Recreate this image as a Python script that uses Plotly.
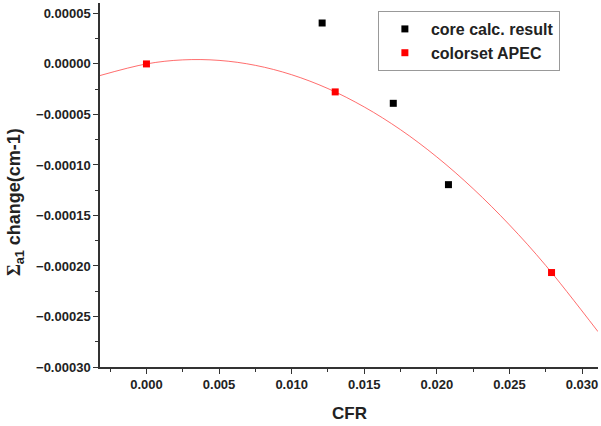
import plotly.graph_objects as go

# Data
core_cfr = [0.0121, 0.0170, 0.0208]
core_change = [0.0000405, -0.0000390, -0.0001195]

apec_cfr = [0.0, 0.0130, 0.0279]
apec_change = [0.0, -0.0000277, -0.0002065]

# Fitted curve (as drawn in the reference)
fit_cfr = [-0.0032, 0.0, 0.0025, 0.005, 0.0075, 0.010, 0.0125, 0.015, 0.0175,
           0.020, 0.0225, 0.025, 0.0275, 0.0311]
fit_change = [-0.0000115, 0.0, 0.0000040, 0.0000035, -0.0000014, -0.0000107,
              -0.0000244, -0.0000426, -0.0000651, -0.0000921, -0.0001235,
              -0.0001593, -0.0001995, -0.0002650]

font_family = "Liberation Sans, Arial, sans-serif"

fig = go.Figure()
fig.add_trace(go.Scatter(
    x=fit_cfr, y=fit_change, mode="lines",
    line=dict(color="rgba(255,60,60,0.75)", width=1, shape="spline"),
    showlegend=False, hoverinfo="skip"))
fig.add_trace(go.Scatter(
    x=core_cfr, y=core_change, mode="markers", name="core calc. result",
    marker=dict(symbol="square", size=7, color="black")))
fig.add_trace(go.Scatter(
    x=apec_cfr, y=apec_change, mode="markers", name="colorset APEC",
    marker=dict(symbol="square", size=7, color="#ff0000")))

axis_common = dict(
    showline=True, linecolor="#333333", linewidth=1.5, showgrid=False, zeroline=False,
    ticks="outside", ticklen=5, tickwidth=1.2, tickcolor="#333333",
    tickfont=dict(family=font_family, size=13, color="#222222", weight="bold"),
    mirror=False, automargin=False,
)

fig.update_layout(
    width=601, height=426,
    margin=dict(l=100, r=3, t=3, b=59),
    plot_bgcolor="white", paper_bgcolor="white",
    font=dict(family=font_family, color="#222222"),
    xaxis=dict(
        range=[-0.0032, 0.0311], dtick=0.005, tick0=0, tickformat=".3f",
        minor=dict(dtick=0.0025, ticks="outside", ticklen=3, tickcolor="#333333"),
        **axis_common),
    yaxis=dict(
        range=[-0.0003, 0.0000603], dtick=0.00005, tick0=0, tickformat=".5f",
        minor=dict(dtick=0.000025, ticks="outside", ticklen=3, tickcolor="#333333"),
        **axis_common),
    legend=dict(
        x=0.558, y=0.978, xanchor="left", yanchor="top",
        bordercolor="#999999", borderwidth=1, bgcolor="white",
        font=dict(family=font_family, size=16, color="#222222", weight="bold"),
        itemwidth=42, tracegroupgap=0,
    ),
    annotations=[
        dict(text="CFR", xref="paper", yref="paper", x=0.5, y=-0.129,
             xanchor="center", yanchor="middle", showarrow=False,
             font=dict(family=font_family, size=17, color="#222222", weight="bold")),
        dict(text="<span style='font-family:Liberation Serif'>Σ</span><sub>a1</sub> change(cm-1)",
             xref="paper", yref="paper", x=-0.1707, y=0.453, textangle=-90,
             xanchor="center", yanchor="middle", showarrow=False,
             font=dict(family=font_family, size=18, color="#222222", weight="bold")),
    ],
)

fig.write_html("out.html", config={"displayModeBar": False},
               post_script="document.body.style.margin='0';document.body.style.overflow='hidden';")
